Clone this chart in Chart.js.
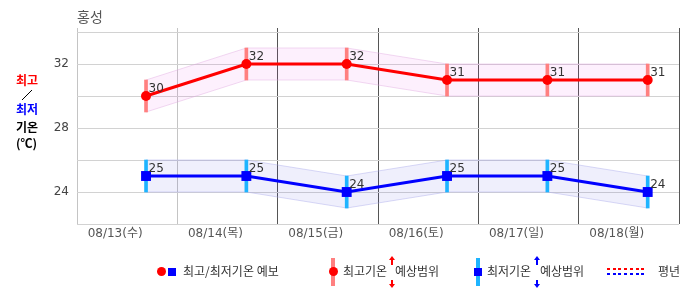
<!DOCTYPE html>
<html>
<head>
<meta charset="utf-8">
<script src="https://cdn.jsdelivr.net/npm/chart.js@4.4.1/dist/chart.umd.min.js"></script>
<style>
body { margin: 0; background: #fff; font-family: "Noto Sans CJK KR", sans-serif; }
#wrap { position: relative; width: 686px; height: 295px; overflow: hidden; }
#chart { position: absolute; left: 0; top: 0; }
.t { position: absolute; white-space: nowrap; line-height: 1; }
.lbl { font-size: 12px; font-weight: bold; left: 16px; }
.lg { font-size: 12px; color: #333; top: 265px; }
.box { position: absolute; }
.up, .down { position: absolute; width: 0; height: 0; border-left: 3px solid transparent; border-right: 3px solid transparent; }
.dots { position: absolute; height: 2px; width: 40px; }
</style>
</head>
<body>
<div id="wrap">
  <canvas id="chart" width="686" height="295"></canvas>

  <div class="t" style="left:77px;top:9px;font-size:14px;color:#555">홍성</div>

  <div class="t lbl" style="top:74px;color:#f00">최고</div>
  <svg class="box" style="left:20px;top:89px" width="14" height="13"><line x1="12" y1="1" x2="2" y2="11" stroke="#000" stroke-width="1"/></svg>
  <div class="t lbl" style="top:103px;color:#00f">최저</div>
  <div class="t lbl" style="top:121px;color:#000">기온</div>
  <div class="t lbl" style="top:137px;color:#000">(℃)</div>

  <!-- legend -->
  <div class="box" style="left:157px;top:267px;width:9px;height:9px;border-radius:50%;background:#f00"></div>
  <div class="box" style="left:168px;top:268px;width:8px;height:8px;background:#00f"></div>
  <div class="t lg" style="left:183px">최고/최저기온 예보</div>

  <div class="box" style="left:331px;top:258px;width:4px;height:28px;background:#ff8080"></div>
  <div class="box" style="left:329px;top:267px;width:9px;height:9px;border-radius:50%;background:#f00"></div>
  <div class="t lg" style="left:343px">최고기온</div>
  <div class="up" style="left:389px;top:256px;border-bottom:4px solid #f00"></div>
  <div class="box" style="left:391px;top:259px;width:2px;height:6px;background:#f00"></div>
  <div class="box" style="left:391px;top:280px;width:2px;height:5px;background:#f00"></div>
  <div class="down" style="left:389px;top:284px;border-top:4px solid #f00"></div>
  <div class="t lg" style="left:395px">예상범위</div>

  <div class="box" style="left:476px;top:258px;width:4px;height:28px;background:#1eb4ff"></div>
  <div class="box" style="left:474px;top:268px;width:8px;height:8px;background:#00f"></div>
  <div class="t lg" style="left:487px">최저기온</div>
  <div class="up" style="left:534px;top:256px;border-bottom:4px solid #00f"></div>
  <div class="box" style="left:536px;top:259px;width:2px;height:6px;background:#00f"></div>
  <div class="box" style="left:536px;top:280px;width:2px;height:5px;background:#00f"></div>
  <div class="down" style="left:534px;top:284px;border-top:4px solid #00f"></div>
  <div class="t lg" style="left:540px">예상범위</div>

  <div class="dots" style="left:607px;top:268px;background:repeating-linear-gradient(90deg,#f00 0 3px,transparent 3px 5.7px)"></div>
  <div class="dots" style="left:607px;top:273px;background:repeating-linear-gradient(90deg,#00f 0 3px,transparent 3px 5.7px)"></div>
  <div class="t lg" style="left:658px">평년</div>
</div>

<script>
"use strict";

// data
const dates = ["08/13(수)", "08/14(목)", "08/15(금)", "08/16(토)", "08/17(일)", "08/18(월)"]
const maxTemp = [30, 32, 32, 31, 31, 31]
const minTemp = [25, 25, 24, 25, 25, 24]
const maxRangeLo = [29, 31, 31, 30, 30, 30]
const maxRangeHi = [31, 33, 33, 32, 32, 32]
const minRangeLo = [24, 24, 23, 24, 24, 23]
const minRangeHi = [26, 26, 25, 26, 26, 25]
const yTickLabels = [24, 28, 32]

// each day is one unit on x; forecast sits later in the day, label a bit left of it
const POINT_OFS = 0.688
const LABEL_OFS = 0.38

const px = i => i + POINT_OFS
const pts = arr => arr.map((v, i) => ({x: px(i), y: v}))
const rng = (lo, hi) => lo.map((v, i) => ({x: px(i), y: [v, hi[i]]}))

const valueLabels = {
    id: "valueLabels",
    afterDatasetsDraw(chart) {
        const ctx = chart.ctx
        ctx.save()
        ctx.font = "12px 'DejaVu Sans'"
        ctx.fillStyle = "#333"
        ctx.textAlign = "left"
        ctx.textBaseline = "middle"
        chart.data.datasets.forEach((ds, di) => {
            if (!ds.showValues) return
            chart.getDatasetMeta(di).data.forEach((p, i) => {
                ctx.fillText(String(ds.data[i].y), p.x + 2.5, p.y - 7.5)
            })
        })
        ctx.restore()
    }
}

const data = {
    datasets: [
        {
            label: "최고기온",
            type: "line",
            data: pts(maxTemp),
            borderColor: "#ff0000",
            backgroundColor: "#ff0000",
            borderWidth: 3,
            pointRadius: 5,
            pointBorderWidth: 0,
            pointStyle: "circle",
            showValues: true,
            order: 0
        },
        {
            label: "최저기온",
            type: "line",
            data: pts(minTemp),
            borderColor: "#0000ff",
            backgroundColor: "#0000ff",
            borderWidth: 3,
            pointRadius: 7,
            pointBorderWidth: 0,
            pointStyle: "rect",
            showValues: true,
            order: 0
        },
        {
            label: "최고기온 예상범위",
            type: "bar",
            data: rng(maxRangeLo, maxRangeHi),
            backgroundColor: "#ff8080",
            barThickness: 3,
            grouped: false,
            order: 1
        },
        {
            label: "최저기온 예상범위",
            type: "bar",
            data: rng(minRangeLo, minRangeHi),
            backgroundColor: "#1eb4ff",
            barThickness: 3,
            grouped: false,
            order: 1
        },
        {
            label: "maxHi",
            type: "line",
            data: pts(maxRangeHi),
            borderColor: "rgba(225,170,225,0.45)",
            borderWidth: 1,
            pointRadius: 0,
            fill: false,
            order: 2
        },
        {
            label: "maxLo",
            type: "line",
            data: pts(maxRangeLo),
            borderColor: "rgba(225,170,225,0.45)",
            borderWidth: 1,
            pointRadius: 0,
            fill: "-1",
            backgroundColor: "rgba(230,40,230,0.07)",
            order: 2
        },
        {
            label: "minHi",
            type: "line",
            data: pts(minRangeHi),
            borderColor: "rgba(170,170,235,0.45)",
            borderWidth: 1,
            pointRadius: 0,
            fill: false,
            order: 2
        },
        {
            label: "minLo",
            type: "line",
            data: pts(minRangeLo),
            borderColor: "rgba(170,170,235,0.45)",
            borderWidth: 1,
            pointRadius: 0,
            fill: "-1",
            backgroundColor: "rgba(40,40,220,0.075)",
            order: 2
        }
    ]
}

const config = {
    type: "line",
    data: data,
    plugins: [valueLabels],
    options: {
        responsive: false,
        animation: false,
        devicePixelRatio: 1,
        layout: { padding: { top: 28, right: 4, left: 0, bottom: 0 } },
        plugins: {
            legend: { display: false },
            tooltip: { enabled: false }
        },
        scales: {
            x: {
                type: "linear",
                position: "bottom",
                min: 0,
                max: dates.length,
                offset: false,
                afterBuildTicks: s => { s.ticks = dates.concat([""]).map((d, i) => ({value: i})) },
                afterFit: s => { s.height = 0 },
                ticks: { display: false },
                border: { display: false },
                grid: {
                    offset: false,
                    drawTicks: false,
                    color: c => c.index < 2 ? "#c4c4c4" : "#555555",
                    lineWidth: 1
                }
            },
            xl: {
                type: "linear",
                position: "bottom",
                min: 0,
                max: dates.length,
                offset: false,
                afterBuildTicks: s => { s.ticks = dates.map((d, i) => ({value: i + LABEL_OFS})) },
                afterFit: s => { s.height = 71 },
                border: { display: false },
                grid: { display: false, drawTicks: false, offset: false },
                ticks: {
                    autoSkip: false,
                    maxRotation: 0,
                    padding: 3,
                    color: "#555",
                    font: { family: "'DejaVu Sans', 'Noto Sans CJK KR'", size: 12 },
                    callback: (v, i) => dates[i]
                }
            },
            y: {
                type: "linear",
                min: 22,
                max: 34.25,
                afterBuildTicks: s => {
                    const t = []
                    for (let v = 22; v <= 34; v++) t.push({value: v})
                    t.push({value: 34.25})
                    s.ticks = t
                },
                afterFit: s => { s.width = 77 },
                border: { display: false },
                grid: {
                    drawTicks: false,
                    color: c => c.tick.value === 34.25 ? "#b4b4b4" : "#d2d2d2"
                },
                ticks: {
                    padding: 8,
                    color: "#444",
                    font: { family: "'DejaVu Sans'", size: 12 },
                    callback: v => yTickLabels.includes(v) ? String(v) : ""
                }
            }
        }
    }
}

new Chart(document.getElementById("chart"), config)
</script>
</body>
</html>
